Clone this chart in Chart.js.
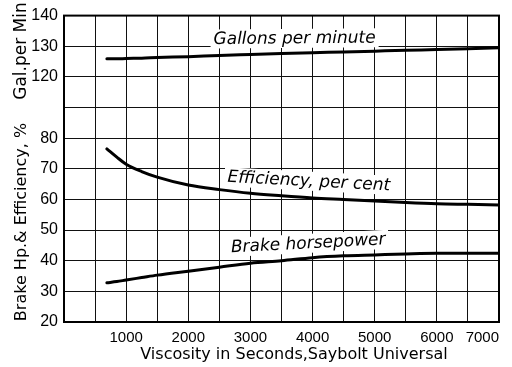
<!DOCTYPE html>
<html>
<head>
<meta charset="utf-8">
<script src="https://cdn.jsdelivr.net/npm/chart.js@4.4.0/dist/chart.umd.min.js"></script>
<style>
    html, body { margin: 0; padding: 0; background: #fff; }
</style>
</head>
<body>
<canvas id="grafico" width="512" height="367"></canvas>
<script>
// viscosidade (segundos Saybolt Universal) e as tres curvas
const viscosidade = [690, 850, 1000, 1250, 1500, 2000, 2500, 3000, 3500, 4000, 4500, 5000, 5500, 6000, 6500, 7000];
const galoes = [125.9, 125.9, 126.0, 126.1, 126.3, 126.6, 127.0, 127.3, 127.6, 127.9, 128.1, 128.4, 128.7, 128.9, 129.2, 129.5];
const eficiencia = [76.5, 73.8, 71.5, 69.1, 67.3, 64.7, 63.2, 62.0, 61.2, 60.5, 60.0, 59.5, 59.0, 58.6, 58.4, 58.2];
const potencia = [32.8, 33.2, 33.7, 34.5, 35.3, 36.6, 37.9, 39.2, 40.0, 41.0, 41.6, 41.9, 42.2, 42.4, 42.4, 42.4];

const ticksX = [1000, 2000, 3000, 4000, 5000, 6000, 7000];
const ticksGal = [120, 130, 140];
const ticksPct = [20, 30, 40, 50, 60, 70, 80];

const fonteNum = '"Liberation Sans", Arial, sans-serif';
const fonteTxt = '"DejaVu Sans", sans-serif';

// rotulos escritos sobre as curvas
const rotulos = [
    { texto: 'Gallons per minute', x: 3710, y: 132.4, eixo: 'yGal', angulo: -0.5 },
    { texto: 'Efficiency, per cent', x: 3940, y: 65.8, eixo: 'yPct', angulo: 3 },
    { texto: 'Brake horsepower', x: 3930, y: 45.5, eixo: 'yPct', angulo: -3 }
];

// titulos dos eixos (posicao em pixels do canvas)
const titulos = [
    { texto: 'Gal.per Min', x: 22, y: 51, angulo: -90, tam: 17 },
    { texto: 'Brake Hp.& Efficiency, %', x: 22, y: 222, angulo: -90, tam: 16 },
    { texto: 'Viscosity in Seconds,Saybolt Universal', x: 294, y: 355, angulo: 0, tam: 16 }
];

const pontos = (serie) => viscosidade.map((v, i) => ({ x: v, y: serie[i] }));

function escrever(ctx, texto, x, y, angulo, fonte, fundo) {
    ctx.save();
    ctx.translate(x, y);
    ctx.rotate(angulo * Math.PI / 180);
    ctx.font = fonte;
    if (fundo) {
        const w = ctx.measureText(texto).width;
        ctx.fillStyle = '#fff';
        ctx.fillRect(-w / 2 - 3, -10, w + 6, 19);
    }
    ctx.fillStyle = '#000';
    ctx.textAlign = 'center';
    ctx.textBaseline = 'middle';
    ctx.fillText(texto, 0, 0);
    ctx.restore();
}

const pluginTextos = {
    id: 'textos',
    beforeDatasetsDraw(chart) {
        const sx = chart.scales.x;
        rotulos.forEach(r => {
            const px = sx.getPixelForValue(r.x);
            const py = chart.scales[r.eixo].getPixelForValue(r.y);
            escrever(chart.ctx, r.texto, px, py, r.angulo, 'oblique 17px ' + fonteTxt, true);
        });
    },
    afterDraw(chart) {
        const a = chart.chartArea;
        const ctx = chart.ctx;
        ctx.save();
        ctx.strokeStyle = '#000';
        ctx.lineWidth = 2;
        ctx.strokeRect(a.left, a.top, a.right - a.left, a.bottom - a.top);
        ctx.restore();
        titulos.forEach(t => escrever(ctx, t.texto, t.x, t.y, t.angulo, t.tam + 'px ' + fonteTxt, false));
    }
};

const grade = () => ({ display: true, drawOnChartArea: true, color: '#111', lineWidth: 1, drawTicks: false });
const borda = () => ({ display: true, color: '#000', width: 2 });

function serie(label, dados, eixo) {
    return {
        label,
        data: pontos(dados),
        yAxisID: eixo,
        borderColor: '#000',
        borderWidth: 3,
        borderCapStyle: 'round',
        pointRadius: 0,
        cubicInterpolationMode: 'monotone',
        fill: false
    };
}

function eixoY(min, max, peso, rotulosTick) {
    return {
        type: 'linear',
        position: 'left',
        stack: 'painel',
        stackWeight: peso,
        min,
        max,
        grid: grade(),
        border: borda(),
        ticks: {
            stepSize: 10,
            autoSkip: false,
            padding: 6,
            color: '#000',
            font: { family: fonteNum, size: 16 },
            callback: v => rotulosTick.includes(v) ? String(v) : ''
        },
        afterFit: s => { s.width = 64; }
    };
}

new Chart(document.getElementById('grafico'), {
    type: 'line',
    data: {
        datasets: [
            serie('Gallons per minute', galoes, 'yGal'),
            serie('Efficiency, per cent', eficiencia, 'yPct'),
            serie('Brake horsepower', potencia, 'yPct')
        ]
    },
    options: {
        responsive: false,
        animation: false,
        devicePixelRatio: 1,
        layout: { padding: { top: 13, right: 13, left: 0, bottom: 0 } },
        plugins: {
            legend: { display: false },
            tooltip: { enabled: false }
        },
        scales: {
            x: {
                type: 'linear',
                min: 0,
                max: 7000,
                grid: grade(),
                border: borda(),
                ticks: {
                    stepSize: 500,
                    align: 'inner',
                    padding: 7,
                    color: '#000',
                    font: { family: fonteNum, size: 15 },
                    maxRotation: 0,
                    autoSkip: false,
                    callback: v => ticksX.includes(v) ? String(v) : ''
                },
                afterFit: s => { s.height = 45; }
            },
            yPct: eixoY(20, 90, 7, ticksPct),
            yGal: eixoY(110, 140, 3, ticksGal)
        }
    },
    plugins: [pluginTextos]
});
</script>
</body>
</html>
